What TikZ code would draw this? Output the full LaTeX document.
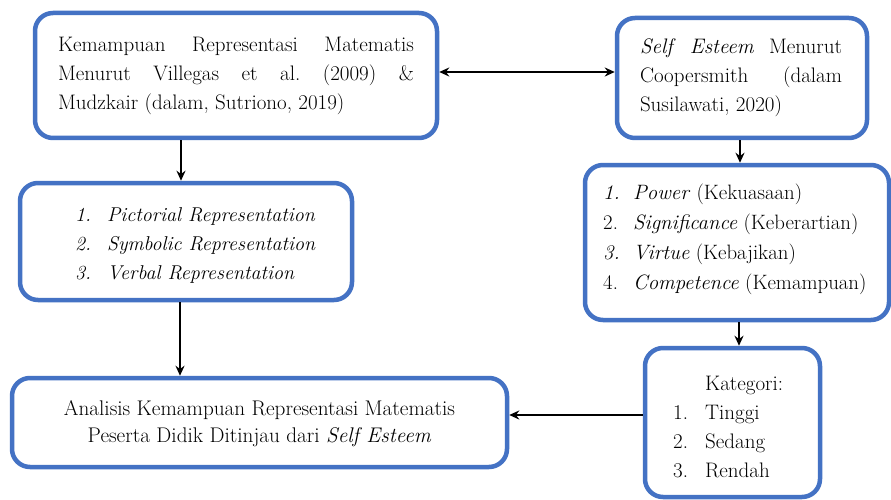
\documentclass[tikz,border=0pt]{standalone}
\usetikzlibrary{arrows.meta}
\definecolor{boxblue}{RGB}{68,114,196}
\begin{document}
\begin{tikzpicture}[x=1pt,y=-1pt,
  box/.style={draw=boxblue, line width=4.5pt, rounded corners=18pt, fill=white, inner sep=0pt},
  txt/.style={inner sep=0pt, font=\fontsize{21}{29}\selectfont},
  conn/.style={line width=2.2pt, -{Stealth[length=10pt,width=9pt]}},
  conn2/.style={line width=2.2pt, {Stealth[length=10pt,width=9pt]}-{Stealth[length=10pt,width=9pt]}}]
\useasboundingbox (0,0) rectangle (891,500);
\fill[white] (0,0) rectangle (891,500);
% boxes
\node[box, minimum width=402pt, minimum height=125pt] (A) at (236,75.5) {};
\node[box, minimum width=250pt, minimum height=120pt] (B) at (742,78) {};
\node[box, minimum width=332pt, minimum height=117pt] (C) at (186,241.5) {};
\node[box, minimum width=304pt, minimum height=155pt] (D) at (737,242.5) {};
\node[box, minimum width=175pt, minimum height=149pt] (E) at (732.5,422.5) {};
\node[box, minimum width=495pt, minimum height=89pt] (F) at (259.5,422.5) {};
% texts
\node[txt, text width=356pt, align=justify] (At) at (236,76)
  {Kemampuan Representasi Matematis\linebreak Menurut Villegas et al.\ (2009) \&\linebreak Mudzkair (dalam, Sutriono, 2019)};
\node[txt, text width=202pt, align=justify] (Bt) at (741,78)
  {\textit{Self Esteem} Menurut\linebreak Coopersmith (dalam\linebreak Susilawati, 2020)};
\node[txt, anchor=west, align=left, font=\fontsize{20}{29}\selectfont] (Ct) at (75,245)
  {\makebox[32pt][l]{\textit{1.}}\textit{Pictorial Representation}\\
   \makebox[32pt][l]{\textit{2.}}\textit{Symbolic Representation}\\
   \makebox[32pt][l]{\textit{3.}}\textit{Verbal Representation}};
\node[txt, anchor=west, align=left, font=\fontsize{20.8}{30}\selectfont] (Dt) at (603,239)
  {\makebox[30pt][l]{\textit{1.}}\textit{Power} (Kekuasaan)\\
   \makebox[30pt][l]{2.}\textit{Significance} (Keberartian)\\
   \makebox[30pt][l]{\textit{3.}}\textit{Virtue} (Kebajikan)\\
   \makebox[30pt][l]{4.}\textit{Competence} (Kemampuan)};
\node[txt, anchor=west, align=left] (Et) at (673,427)
  {\makebox[32pt][l]{}Kategori:\\
   \makebox[32pt][l]{1.}Tinggi\\
   \makebox[32pt][l]{2.}Sedang\\
   \makebox[32pt][l]{3.}Rendah};
\node[txt, align=center, font=\fontsize{21.2}{27}\selectfont] (Ft) at (259.5,424)
  {Analisis Kemampuan Representasi Matematis\\ Peserta Didik Ditinjau dari \textit{Self Esteem}};
% connectors
\draw[conn2] ([yshift=3.5pt]A.east) -- ([yshift=3.5pt]A.east -| B.west);
\draw[conn] ([xshift=-5pt]C.north |- A.south) -- ([xshift=-5pt]C.north);
\draw[conn] ([xshift=-6pt]C.south) -- ([xshift=-6pt]C.south |- F.north);
\draw[conn] ([xshift=-2pt]B.south) -- ([xshift=-2pt]B.south |- D.north);
\draw[conn] ([xshift=6.5pt]E.north |- D.south) -- ([xshift=6.5pt]E.north);
\draw[conn] ([yshift=7.5pt]E.west) -- ([yshift=7.5pt]E.west -| F.east);
\end{tikzpicture}
\end{document}
